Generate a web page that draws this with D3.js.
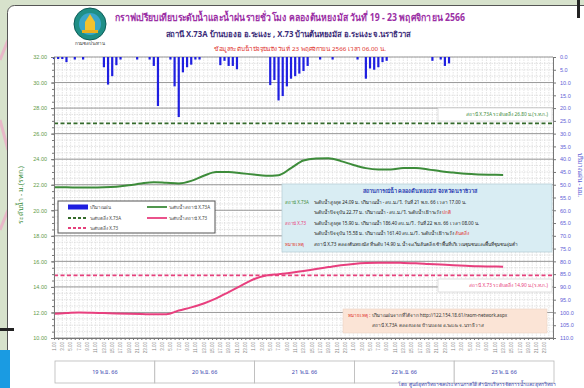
<!DOCTYPE html>
<html><head><meta charset="utf-8">
<script src="https://cdn.jsdelivr.net/npm/d3@7"></script>
<style>
html,body{margin:0;padding:0;background:#d9e3cf;overflow:hidden}
svg{display:block;font-family:"Noto Sans","DejaVu Sans",sans-serif}
</style></head><body>
<svg id="chart" width="584" height="388"></svg>
<script>
// ---- data ----
const days = ["19 พ.ย. 66", "20 พ.ย. 66", "21 พ.ย. 66", "22 พ.ย. 66", "23 พ.ย. 66"];
const hourLabels = ["1.00","3.00","5.00","7.00","9.00","11.00","13.00","15.00","17.00","19.00","21.00","23.00"];
const leftTicks = [10,12,14,16,18,20,22,24,26,28,30,32];
const rightTicks = [0,5,10,15,20,25,30,35,40,45,50,55,60,65,70,75,80,85,90,95,100,105,110];

// hours counted from 19 Nov 00:00
const levelHours = [0,3,6,9,12,15,18,21,24,27,30,33,36,39,42,45,48,51,54,57,60,63,66,69,72,75,78,81,84,87,90,93,96,99,102,105,108];
const levelX73A = [21.80,21.80,21.78,21.78,21.80,21.85,21.95,22.10,22.20,22.15,22.10,22.30,22.70,23.00,23.00,22.90,22.80,22.70,22.75,23.30,23.90,24.05,24.08,23.85,23.55,23.30,23.20,23.20,23.30,23.30,23.20,23.05,22.95,22.85,22.80,22.78,22.77];
const levelX73  = [11.90,11.95,12.00,11.98,11.95,11.92,11.90,11.88,11.85,11.85,12.15,12.40,12.70,13.10,13.60,14.10,14.60,14.90,15.00,15.10,15.25,15.40,15.55,15.70,15.80,15.87,15.90,15.90,15.88,15.85,15.80,15.75,15.70,15.66,15.62,15.60,15.58];

const rainHours = [0,1,2,3,5,7,12,13,14,15,16,20,23,24,25,28,29,30,31,32,33,34,35,40,41,42,43,44,52,53,54,55,56,57,58,59,60,61,64,67,73,75,76,77,78,79,80,91,93,94,95];
const rainMm    = [0.8,0.8,0.8,2.0,1.0,1.0,4.0,10.8,7.5,3.2,1.0,1.0,1.0,3.5,19.2,1.0,11.5,23.5,6.0,4.0,3.0,1.0,1.0,3.2,1.5,3.5,3.5,4.8,11.0,9.0,17.0,15.3,11.5,8.5,7.5,6.5,5.5,3.5,1.0,1.0,1.0,8.5,4.5,5.0,4.0,2.0,1.5,1.5,1.0,3.5,2.5];

const bankX73A = 26.80;
const bankX73 = 14.90;

// ---- layout ----
const svg = d3.select("#chart");
const P = {l: 54, r: 553, t: 57, b: 338};
const x = d3.scaleLinear().domain([0, 120]).range([P.l, P.r]);
const yL = d3.scaleLinear().domain([10, 32]).range([P.b, P.t]);
const yR = d3.scaleLinear().domain([0, 110]).range([P.t, P.b]);

// backdrop and panel
svg.append("rect").attr("width", 584).attr("height", 388).attr("fill", "#d7e2cc");
svg.append("path").attr("d", "M0,60 L8,40 M0,120 L8,150 M0,230 L8,210").attr("stroke", "#e8b8c8").attr("stroke-width", 3).attr("fill", "none");
svg.append("rect").attr("x", 7.5).attr("y", 5.5).attr("width", 600).attr("height", 400).attr("rx", 7)
  .attr("fill", "#ffffff").attr("stroke", "#555").attr("stroke-width", 1);
svg.append("rect").attr("x", 0).attr("y", 328).attr("width", 14).attr("height", 3).attr("fill", "#222");
svg.append("rect").attr("x", 0).attr("y", 350).attr("width", 10).attr("height", 38).attr("fill", "#1a9be2");
svg.append("rect").attr("x", 577).attr("y", 0).attr("width", 3).attr("height", 18).attr("fill", "#222");

// logo
const logo = svg.append("g").attr("transform", "translate(90,24)");
logo.append("circle").attr("r", 16).attr("fill", "#1f8f86").attr("stroke", "#0e5c57").attr("stroke-width", 1);
logo.append("circle").attr("r", 11).attr("fill", "#3aa6c9");
logo.append("path").attr("d", "M-5,8 L-5,-2 L0,-10 L5,-2 L5,8 Z").attr("fill", "#f2c230");
logo.append("rect").attr("x", -8).attr("y", 6).attr("width", 16).attr("height", 3).attr("fill", "#e9b020");
svg.append("text").attr("x", 90).attr("y", 45).attr("text-anchor", "middle").attr("font-size", 4.5)
  .attr("fill", "#333").text("กรมชลประทาน");

// titles
svg.append("text").attr("x", 290).attr("y", 21).attr("text-anchor", "middle").attr("font-size", 10)
  .attr("font-weight", "bold").attr("fill", "#9b2fa5").attr("textLength", 350).attr("lengthAdjust", "spacingAndGlyphs")
  .text("กราฟเปรียบเทียบระดับน้ำและน้ำฝนรายชั่วโมง  คลองต้นหยงมัส วันที่ 19 - 23 พฤศจิกายน 2566");
svg.append("text").attr("x", 288).attr("y", 37).attr("text-anchor", "middle").attr("font-size", 8)
  .attr("font-weight", "bold").attr("fill", "#3a2b78").attr("textLength", 245).attr("lengthAdjust", "spacingAndGlyphs")
  .text("สถานี X.73A บ้านบองอ อ.ระแงะ , X.73 บ้านต้นหยงมัส อ.ระแงะ  จ.นราธิวาส");
svg.append("text").attr("x", 300).attr("y", 51).attr("text-anchor", "middle").attr("font-size", 5.5)
  .attr("fill", "#e0302a").attr("textLength", 172).attr("lengthAdjust", "spacingAndGlyphs")
  .text("ข้อมูลระดับน้ำปัจจุบันถึงวันที่  23 พฤศจิกายน 2566  เวลา 06.00 น.");

// grid
const grid = svg.append("g");
grid.selectAll(".vg").data(d3.range(0, 121, 1)).join("line")
  .attr("x1", d => x(d)).attr("x2", d => x(d)).attr("y1", P.t).attr("y2", P.b)
  .attr("stroke", "#d4d4d4").attr("stroke-width", 0.6).attr("stroke-dasharray", "1.5,1");
grid.selectAll(".hg").data(d3.range(10, 32.01, 0.5)).join("line")
  .attr("x1", P.l).attr("x2", P.r).attr("y1", d => yL(d)).attr("y2", d => yL(d))
  .attr("stroke", "#d0d0d0").attr("stroke-width", 0.6).attr("stroke-dasharray", "1.5,1");
grid.selectAll(".mg").data(leftTicks).join("line")
  .attr("x1", P.l).attr("x2", P.r).attr("y1", d => yL(d)).attr("y2", d => yL(d))
  .attr("stroke", "#9a9a9a").attr("stroke-width", 1);

// rainfall bars hang from the top (right axis inverted)
svg.append("g").selectAll("rect").data(rainHours.map((h, i) => ({h, v: rainMm[i]}))).join("rect")
  .attr("x", d => x(d.h) - 1.1).attr("width", 2.2)
  .attr("y", yR(0)).attr("height", d => yR(d.v) - yR(0))
  .attr("fill", "#1f1fe0");

// bank levels
svg.append("line").attr("x1", P.l).attr("x2", P.r).attr("y1", yL(bankX73A)).attr("y2", yL(bankX73A))
  .attr("stroke", "#356b2c").attr("stroke-width", 1.8).attr("stroke-dasharray", "4,2.5");
svg.append("line").attr("x1", P.l).attr("x2", P.r).attr("y1", yL(bankX73)).attr("y2", yL(bankX73))
  .attr("stroke", "#e5407c").attr("stroke-width", 1.8).attr("stroke-dasharray", "4,2.5");

// water level lines
const line = d3.line().x(d => x(d.h)).y(d => yL(d.v)).curve(d3.curveMonotoneX);
svg.append("path").datum(levelHours.map((h, i) => ({h, v: levelX73A[i]})))
  .attr("d", line).attr("fill", "none").attr("stroke", "#3d8c3a").attr("stroke-width", 2);
svg.append("path").datum(levelHours.map((h, i) => ({h, v: levelX73[i]})))
  .attr("d", line).attr("fill", "none").attr("stroke", "#e83f7e").attr("stroke-width", 2);

// axes
const axL = svg.append("g").attr("transform", `translate(${P.l},0)`)
  .call(d3.axisLeft(yL).tickValues(leftTicks).tickFormat(d3.format(".2f")).tickSize(3));
svg.append("g").attr("transform", `translate(${P.l},0)`)
  .call(d3.axisLeft(yL).tickValues(d3.range(10, 32.01, 0.5)).tickFormat("").tickSize(2))
  .call(g => g.select(".domain").remove());
axL.selectAll("text").attr("font-size", 5.5).attr("fill", "#5f9a48").attr("x", -7);
const axR = svg.append("g").attr("transform", `translate(${P.r},0)`)
  .call(d3.axisRight(yR).tickValues(rightTicks).tickFormat(d3.format(".1f")).tickSize(3));
axR.selectAll("text").attr("font-size", 5.5).attr("fill", "#5e5ed6").attr("x", 7);
svg.append("g").attr("transform", `translate(0,${P.b})`)
  .call(d3.axisBottom(x).tickValues(d3.range(0, 121, 1)).tickFormat("").tickSize(2));
svg.selectAll(".domain").attr("stroke", "#777");
svg.selectAll(".tick line").attr("stroke", "#777");
axL.selectAll("text").attr("font-family", "Liberation Sans, sans-serif");
axR.selectAll("text").attr("font-family", "Liberation Sans, sans-serif");

// hour labels along the bottom
const hl = [];
days.forEach((d, di) => hourLabels.forEach((t, ti) => hl.push({h: di * 24 + ti * 2, t})));
svg.append("g").selectAll("text").data(hl).join("text")
  .attr("transform", d => `translate(${x(d.h) + 1.8},${P.b + 4}) rotate(-90)`)
  .attr("text-anchor", "end").attr("font-size", 4.5).attr("fill", "#888")
  .attr("font-family", "Liberation Sans, sans-serif").text(d => d.t);

// day boxes
const dayG = svg.append("g");
days.forEach((d, i) => {
  dayG.append("rect").attr("x", x(i * 24) + 1).attr("y", 361).attr("width", x(24) - x(0)).attr("height", 22)
    .attr("fill", "#fff").attr("stroke", "#b8b8b8").attr("stroke-width", 0.8);
  dayG.append("text").attr("x", x(i * 24 + 12) + 1).attr("y", 374).attr("text-anchor", "middle")
    .attr("font-size", 5.5).attr("fill", "#3845b0").text(d);
});

// axis titles
svg.append("text").attr("transform", "translate(23,195) rotate(-90)").attr("text-anchor", "middle")
  .attr("font-size", 7).attr("fill", "#3d8c3a").text("ระดับน้ำ - ม.(รทก.)");
svg.append("text").attr("transform", "translate(578,175) rotate(90)").attr("text-anchor", "middle")
  .attr("font-size", 6.5).attr("fill", "#5e5ed6").text("ปริมาณฝน - มม.");

// legend
const lg = svg.append("g");
lg.append("rect").attr("x", 58).attr("y", 201).attr("width", 157).attr("height", 32)
  .attr("fill", "#fff").attr("stroke", "#555").attr("stroke-width", 1);
const legendItems = [
  {x: 68, y: 207, kind: "bar", color: "#1f1fe0", label: "ปริมาณฝน"},
  {x: 68, y: 218, kind: "dash", color: "#356b2c", label: "ระดับตลิ่ง X.73A"},
  {x: 68, y: 228, kind: "dash", color: "#e5407c", label: "ระดับตลิ่ง X.73"},
  {x: 147, y: 207, kind: "line", color: "#3d8c3a", label: "ระดับน้ำสถานี X.73A"},
  {x: 147, y: 218, kind: "line", color: "#e83f7e", label: "ระดับน้ำสถานี X.73"}
];
legendItems.forEach(it => {
  if (it.kind === "bar") {
    lg.append("rect").attr("x", it.x).attr("y", it.y - 2.5).attr("width", 20).attr("height", 5).attr("fill", it.color);
  } else {
    lg.append("line").attr("x1", it.x).attr("x2", it.x + 20).attr("y1", it.y).attr("y2", it.y)
      .attr("stroke", it.color).attr("stroke-width", 1.8)
      .attr("stroke-dasharray", it.kind === "dash" ? "3,2" : null);
  }
  lg.append("text").attr("x", it.x + 22).attr("y", it.y + 1.5).attr("font-size", 4.5).attr("fill", "#444").text(it.label);
});

// bank annotation boxes
function tagBox(x0, y0, w, h, color, txt) {
  svg.append("rect").attr("x", x0).attr("y", y0).attr("width", w).attr("height", h)
    .attr("fill", "#fff").attr("stroke", "#d8d8d8").attr("stroke-width", 0.8);
  svg.append("text").attr("x", x0 + w - 4).attr("y", y0 + h / 2 + 1.7).attr("text-anchor", "end")
    .attr("font-size", 4.8).attr("fill", color).text(txt);
}
tagBox(438, 108, 114, 13, "#3d8c3a", "สถานี X.73A   ระดับตลิ่ง 26.80 ม.(ร.ท.ก.)");
tagBox(438, 279, 114, 13, "#e83f7e", "สถานี X.73   ระดับตลิ่ง 14.90 ม.(ร.ท.ก.)");

// water situation box
const ib = svg.append("g");
ib.append("rect").attr("x", 282).attr("y", 184).attr("width", 270).attr("height", 68)
  .attr("fill", "#d9edf3").attr("stroke", "#b9cfd8").attr("stroke-width", 0.8);
ib.append("text").attr("x", 420).attr("y", 193).attr("text-anchor", "middle").attr("font-size", 5.5)
  .attr("font-weight", "bold").attr("fill", "#2b3db2").text("สถานการณ์น้ำ  คลองต้นหยงมัส   จังหวัดนราธิวาส");
const infoRows = [
  {y: 204, tag: "สถานี X.73A", tagColor: "#3d8c3a", parts: [["ระดับน้ำสูงสุด 24.09 ม. ปริมาณน้ำ - ลบ.ม./วิ.  วันที่ 21 พ.ย. 66 เวลา 17.00 น.", "#222"]]},
  {y: 214, tag: "", tagColor: "#3d8c3a", parts: [["ระดับน้ำปัจจุบัน 22.77 ม. ปริมาณน้ำ - ลบ.ม./วิ.   ระดับน้ำเฝ้าระวัง ", "#222"], ["ปกติ", "#e0302a"]]},
  {y: 225, tag: "สถานี X.73", tagColor: "#e83f7e", parts: [["ระดับน้ำสูงสุด 15.90 ม. ปริมาณน้ำ 186.40 ลบ.ม./วิ.  วันที่ 22 พ.ย. 66 เวลา 08.00 น.", "#222"]]},
  {y: 235, tag: "", tagColor: "#e83f7e", parts: [["ระดับน้ำปัจจุบัน 15.58 ม. ปริมาณน้ำ 161.40 ลบ.ม./วิ.   ระดับน้ำเฝ้าระวัง ", "#222"], ["ล้นตลิ่ง", "#e0302a"]]},
  {y: 246, tag: "หมายเหตุ", tagColor: "#e0302a", parts: [["สถานี X.73 คลองต้นหยงมัส  ที่ระดับ 14.90 ม.  น้ำจะเริ่มล้นตลิ่งเข้าพื้นที่บริเวณชุมชนและพื้นที่ชุมชนลุ่มต่ำ", "#222"]]}
];
infoRows.forEach(r => {
  if (r.tag) ib.append("text").attr("x", 285).attr("y", r.y).attr("font-size", 4.4).attr("fill", r.tagColor).text(r.tag);
  const t = ib.append("text").attr("x", 314).attr("y", r.y).attr("font-size", 4.6);
  r.parts.forEach(p => t.append("tspan").attr("fill", p[1]).text(p[0]));
});

// source note
svg.append("rect").attr("x", 343).attr("y", 309).attr("width", 204).attr("height", 24)
  .attr("fill", "#fbe4d6").attr("stroke", "#ead2c4").attr("stroke-width", 0.6);
const n1 = svg.append("text").attr("x", 348).attr("y", 317).attr("font-size", 4.6);
n1.append("tspan").attr("fill", "#e0302a").text("หมายเหตุ  :  ");
n1.append("tspan").attr("fill", "#333").text("ปริมาณฝนจากที่ได้จาก http://122.154.18.61/raom-network.aspx");
svg.append("text").attr("x", 372).attr("y", 327).attr("font-size", 4.6).attr("fill", "#333")
  .text("สถานี X.73A คลองบองอ บ้านบองอ อ.ระแงะ จ.นราธิวาส");

// footer
svg.append("text").attr("x", 556).attr("y", 386).attr("text-anchor", "end").attr("font-size", 5)
  .attr("fill", "#3845b0").text("โดย  ศูนย์อุทกวิทยาชลประทานภาคใต้  สำนักบริหารจัดการน้ำและอุทกวิทยา");
</script>
</body></html>
